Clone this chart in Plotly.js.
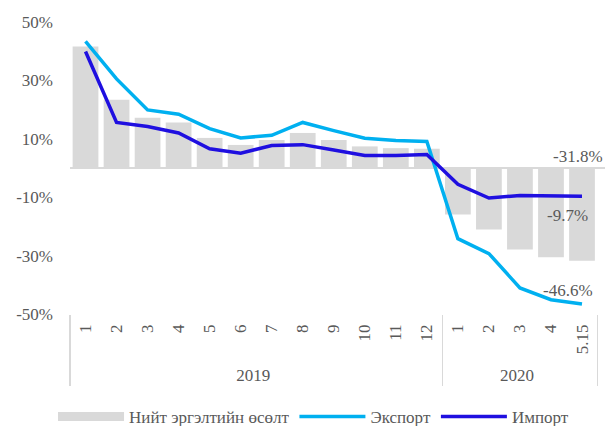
<!DOCTYPE html>
<html><head><meta charset="utf-8">
<script src="https://cdn.plot.ly/plotly-3.0.1.min.js"></script>
<style>html,body{margin:0;padding:0;background:#fff}#chart{width:606px;height:426px}</style>
</head><body><div id="chart"></div>
<script>
const years = ['2019','2019','2019','2019','2019','2019','2019','2019','2019','2019','2019','2019','2020','2020','2020','2020','2020'];
const months = ['1','2','3','4','5','6','7','8','9','10','11','12','1','2','3','4','5.15'];
const totalGrowth = [41.6, 23.4, 17.2, 15.6, 10.3, 7.9, 9.6, 12.0, 9.6, 7.4, 6.8, 6.6, -15.9, -21.1, -27.9, -30.6, -31.8];
const exportGrowth = [43.4, 30.5, 19.9, 18.4, 13.5, 10.3, 11.2, 15.6, 12.8, 10.2, 9.4, 9.1, -24.2, -29.3, -41.1, -45.1, -46.6];
const importGrowth = [39.9, 15.6, 14.2, 12.0, 6.6, 5.1, 7.7, 8.0, 6.2, 4.3, 4.3, 4.6, -5.6, -10.3, -9.4, -9.7, -9.7];
const seriesNames = ['Нийт эргэлтийн өсөлт', 'Экспорт', 'Импорт'];
const yTicks = [-50, -30, -10, 10, 30, 50];

const fam = 'Liberation Serif, Times New Roman, serif';
const font = {family: fam, size: 17, color: '#595959'};
const x = [years, months];
const last = months.length - 1;
const barColor = '#d9d9d9';

const traces = [
  {type: 'bar', name: seriesNames[0], x: x, y: totalGrowth, marker: {color: barColor}, showlegend: false},
  // legend-only entry to show the wide grey swatch of the bar series
  {type: 'scatter', mode: 'lines', name: seriesNames[0], x: [null], y: [null], line: {color: barColor, width: 9}, showlegend: true},
  {type: 'scatter', mode: 'lines', name: seriesNames[1], x: x, y: exportGrowth, line: {color: '#00b0f0', width: 3.5}},
  {type: 'scatter', mode: 'lines', name: seriesNames[2], x: x, y: importGrowth, line: {color: '#1f0fe0', width: 3.5}}
];

const fmt = v => v.toFixed(1) + '%';
const layout = {
  width: 606, height: 426,
  margin: {l: 70, r: 1, t: 22, b: 112, autoexpand: false},
  paper_bgcolor: '#fff', plot_bgcolor: '#fff',
  font: font,
  bargap: 0.17,
  showlegend: true,
  legend: {orientation: 'h', x: 0.0875, xanchor: 'left', xref: 'container', yref: 'container', y: 0.021, yanchor: 'middle',
           font: font, itemwidth: 66, traceorder: 'normal'},
  xaxis: {
    type: 'multicategory', tickangle: -90, showgrid: false, zeroline: false, showline: false,
    ticks: '', showdividers: true, dividercolor: '#d9d9d9', dividerwidth: 1.5,
    tickfont: font, automargin: false, ticklabelstandoff: 6
  },
  yaxis: {
    range: [-50, 50], tickvals: yTicks, ticktext: yTicks.map(v => v + '%'),
    showgrid: false, zeroline: true, zerolinecolor: '#d9d9d9', zerolinewidth: 1.5,
    showline: false, ticks: '', ticklabelstandoff: 16, tickfont: font, fixedrange: true, automargin: false
  },
  annotations: [
    {xref: 'x', yref: 'y', x: last, y: 0, text: fmt(totalGrowth[last]), showarrow: false, yshift: 12, xshift: -4, font: font},
    {xref: 'x', yref: 'y', x: last, y: importGrowth[last], text: fmt(importGrowth[last]), showarrow: false, yshift: -19, xshift: -15, font: font},
    {xref: 'x', yref: 'y', x: last, y: exportGrowth[last], text: fmt(exportGrowth[last]), showarrow: false, yshift: 14, xshift: -14, font: font}
  ]
};
Plotly.newPlot('chart', traces, layout, {displayModeBar: false, staticPlot: true});
</script></body></html>
